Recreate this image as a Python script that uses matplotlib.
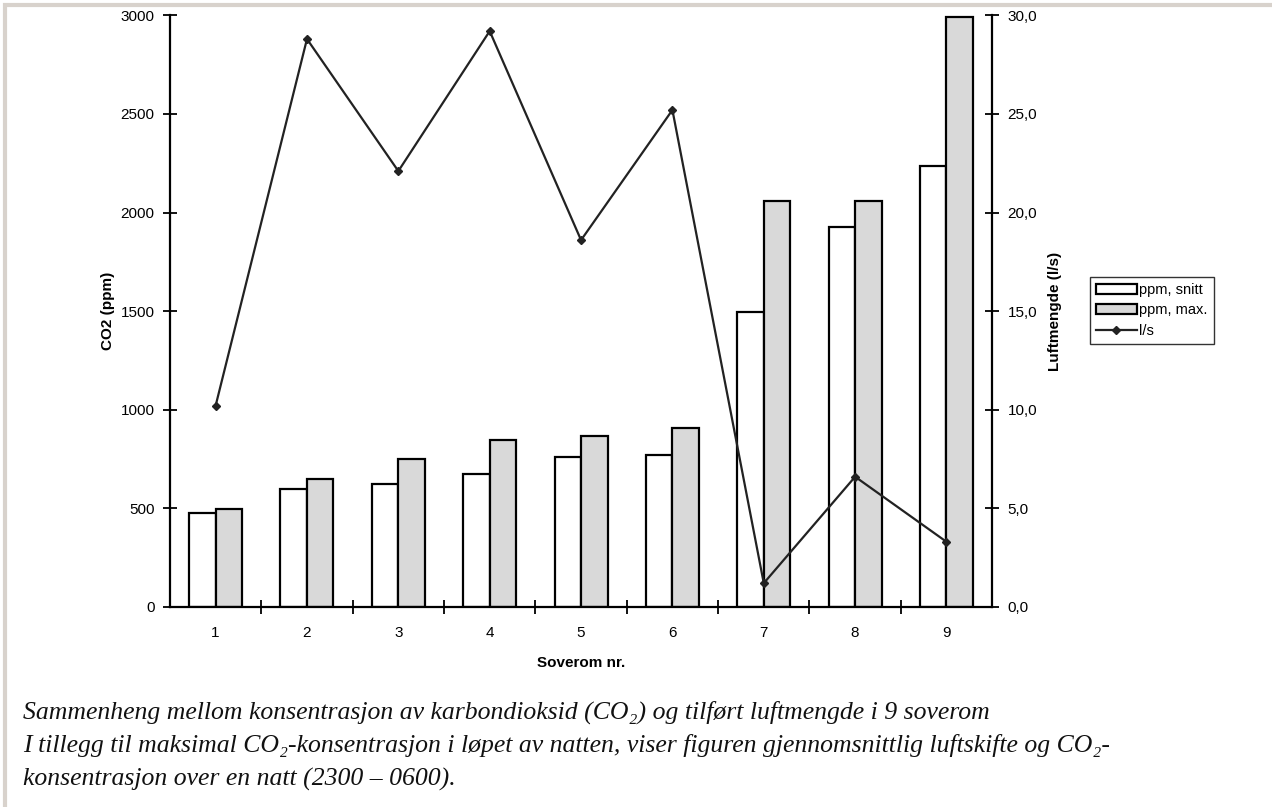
import numpy as np
import matplotlib.pyplot as plt
from matplotlib.ticker import FuncFormatter, FixedLocator

rooms = ["1", "2", "3", "4", "5", "6", "7", "8", "9"]
ppm_avg = [475, 596, 621, 672, 762, 770, 1495, 1925, 2238]
ppm_max = [495, 646, 752, 848, 868, 905, 2058, 2058, 2990]
airflow = [10.2, 28.8, 22.1, 29.2, 18.6, 25.2, 1.2, 6.6, 3.3]

plt.rcParams['font.family'] = ['Liberation Sans', 'DejaVu Sans']

fig = plt.figure(figsize=(12.72, 8.07), dpi=100)
ax = fig.add_axes([0.1336, 0.248, 0.6464, 0.733])
ax2 = ax.twinx()

x = np.arange(len(rooms))
w = 0.29
b1 = ax.bar(x - w / 2, ppm_avg, w, color='white', edgecolor='black', linewidth=1.6, label='ppm, snitt')
b2 = ax.bar(x + w / 2, ppm_max, w, color='#d9d9d9', edgecolor='black', linewidth=1.6, label='ppm, max.')
ln, = ax2.plot(x, airflow, color='#222222', linewidth=1.6, marker='D', markersize=4.5, label='l/s')

ax.set_xlim(-0.5, len(rooms) - 0.5)
ax.set_ylim(0, 3000)
ax2.set_ylim(0, 30)
ax.set_yticks(range(0, 3001, 500))
ax2.set_yticks(range(0, 31, 5))
ax2.yaxis.set_major_formatter(FuncFormatter(lambda v, p: f"{v:.1f}".replace('.', ',')))

ax.set_xticks(x)
ax.set_xticklabels(rooms)
ax.xaxis.set_minor_locator(FixedLocator(np.arange(0.5, len(rooms) - 1, 1)))
ax.tick_params(axis='x', which='major', length=0, pad=14, labelsize=11)
ax.tick_params(axis='x', which='minor', length=10, width=1.3, direction='inout')
ax.tick_params(axis='y', length=10, width=1.3, direction='inout', labelsize=11, pad=6)
ax2.tick_params(axis='y', length=10, width=1.3, direction='inout', labelsize=11, pad=6)

for a in (ax, ax2):
    a.spines['top'].set_visible(False)
    for s in ('left', 'right', 'bottom'):
        a.spines[s].set_linewidth(1.6)
ax.spines['right'].set_visible(False)
ax2.spines['left'].set_visible(False)
ax2.spines['bottom'].set_visible(False)

ax.set_xlabel('Soverom nr.', fontsize=11, fontweight='bold', labelpad=11)
ax.set_ylabel('CO2 (ppm)', fontsize=11, fontweight='bold', labelpad=4)
ax2.set_ylabel('Luftmengde (l/s)', fontsize=11, fontweight='bold', labelpad=8)

ax2.legend(handles=[b1, b2, ln], loc='upper left', bbox_to_anchor=(1.11, 0.57),
           frameon=True, fancybox=False, edgecolor='black', fontsize=10.5,
           handlelength=2.8, handletextpad=0.2, borderpad=0.4, labelspacing=0.45)

cap = dict(fontsize=18.5, style='italic', color='#111111',
           family=['Liberation Serif', 'DejaVu Serif'])
fig.text(0.018, 0.110, 'Sammenheng mellom konsentrasjon av karbondioksid (CO₂) og tilført luftmengde i 9 soverom', **cap)
fig.text(0.018, 0.068, 'I tillegg til maksimal CO₂-konsentrasjon i løpet av natten, viser figuren gjennomsnittlig luftskifte og CO₂-', **cap)
fig.text(0.018, 0.027, 'konsentrasjon over en natt (2300 – 0600).', **cap)

# thin frame round the page
fig.patches.append(plt.Rectangle((0.004, -0.01), 1.2, 1.004, transform=fig.transFigure,
                                 fill=False, edgecolor='#d8d2cc', linewidth=3))

fig.savefig('out.png', dpi=100)
